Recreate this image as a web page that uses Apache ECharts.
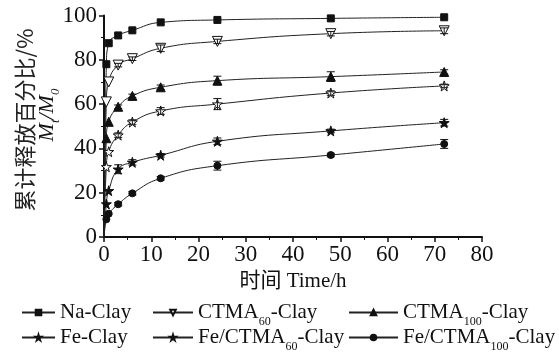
<!DOCTYPE html>
<html>
<head>
<meta charset="utf-8">
<script src="https://cdn.jsdelivr.net/npm/echarts@6/dist/echarts.min.js"></script>
<style>html,body{margin:0;padding:0;background:#fff;}#c{width:559px;height:354px;}</style>
</head>
<body>
<div id="c"></div>
<script>
// ---- data ----
var times = [0, 0.5, 1, 3, 6, 12, 24, 48, 72];
var seriesNames = ['Na-Clay', 'CTMA60-Clay', 'CTMA100-Clay', 'Fe-Clay', 'Fe/CTMA60-Clay', 'Fe/CTMA100-Clay'];
var naClay        = [0, 78.0, 87.5, 91.0, 93.3, 96.9, 98.0, 98.7, 99.2];
var ctma60Clay    = [0, 61.0, 70.0, 77.6, 80.5, 85.2, 88.3, 91.8, 93.1];
var ctma100Clay   = [0, 44.6, 52.0, 58.8, 63.7, 67.6, 70.6, 72.4, 74.5];
var feClay        = [0, 31.7, 38.5, 46.0, 51.9, 56.9, 60.0, 65.0, 68.2];
var feCtma60Clay  = [0, 14.9, 20.9, 30.6, 33.7, 36.9, 43.2, 47.9, 51.6];
var feCtma100Clay = [0, 8.0, 10.5, 14.8, 19.7, 26.5, 32.2, 37.0, 42.0];
var naErr        = [0, 0, 0, 0, 0, 0, 0, 0, 0];
var ctma60Err    = [0, 0, 0, 0.8, 0.8, 1.5, 1.0, 1.0, 1.3];
var ctma100Err   = [0, 0, 0, 0.8, 0.8, 1.0, 2.0, 2.2, 1.0];
var feErr        = [0, 0, 0, 1.0, 1.0, 1.5, 2.5, 1.0, 0.8];
var feCtma60Err  = [0, 0, 0, 2.0, 1.2, 0.8, 1.5, 0.8, 1.5];
var feCtma100Err = [0, 0, 0, 0.8, 0.8, 0.8, 2.0, 0.8, 2.0];
var xTicks = [0, 10, 20, 30, 40, 50, 60, 70, 80];
var yTicks = [0, 20, 40, 60, 80, 100];

// ---- build ----
var serif = 'Liberation Serif, Times New Roman, serif';
var values = [naClay, ctma60Clay, ctma100Clay, feClay, feCtma60Clay, feCtma100Clay];
var errs = [naErr, ctma60Err, ctma100Err, feErr, feCtma60Err, feCtma100Err];
var starPath = 'path://M50,0 L61,35 L98,35 L68,57 L79,91 L50,70 L21,91 L32,57 L2,35 L39,35 Z';
var symbols = ['rect', 'path://M0,0 L100,0 L50,86 Z', 'triangle', starPath, starPath, 'circle'];
var sizes = [7, 10, 9, 10, 10, 7];
var filled = [true, false, true, false, true, true];

function pts(arr) {
  return times.map(function (t, i) {
    var d = { value: [t, arr[i]] };
    if (t === 0) { d.symbol = 'none'; }
    return d;
  });
}

var series = [];
seriesNames.forEach(function (n, k) {
  series.push({
    name: n, type: 'line', data: pts(values[k]), smooth: 0.5,
    symbol: symbols[k], symbolSize: sizes[k],
    lineStyle: { color: '#222', width: 1 },
    itemStyle: { color: filled[k] ? '#111' : '#fff', borderColor: '#111', borderWidth: 1 },
    z: 3
  });
});
var errData = [];
errs.forEach(function (e, k) {
  e.forEach(function (v, i) { if (v > 0) errData.push([times[i], values[k][i] - v, values[k][i] + v]); });
});
series.push({
  type: 'custom', data: errData, z: 4, silent: true,
  renderItem: function (params, api) {
    var x = api.value(0);
    var lo = api.coord([x, api.value(1)]);
    var hi = api.coord([x, api.value(2)]);
    var w = 4;
    var st = { stroke: '#111', lineWidth: 1 };
    return { type: 'group', children: [
      { type: 'line', shape: { x1: lo[0], y1: lo[1], x2: hi[0], y2: hi[1] }, style: st },
      { type: 'line', shape: { x1: lo[0] - w, y1: lo[1], x2: lo[0] + w, y2: lo[1] }, style: st },
      { type: 'line', shape: { x1: hi[0] - w, y1: hi[1], x2: hi[0] + w, y2: hi[1] }, style: st }
    ]};
  }
});

function legendFmt(name) {
  var m = name.match(/^(.*CTMA)(\d+)(-Clay)$/);
  if (m) return '{a|' + m[1] + '}{s|' + m[2] + '}{a|' + m[3] + '}';
  return '{a|' + name + '}';
}
var legendText = {
  color: '#111', fontFamily: serif, fontSize: 21,
  rich: {
    a: { fontFamily: serif, fontSize: 21, lineHeight: 24, color: '#111' },
    s: { fontFamily: serif, fontSize: 12, lineHeight: 12, verticalAlign: 'bottom', padding: [0, 0, -3, 0], color: '#111' }
  }
};
function mkLegend(left, top, w, name) {
  return {
    left: left, top: top, itemWidth: w, itemHeight: 7, padding: 0,
    data: [name], formatter: legendFmt, textStyle: legendText, selectedMode: false
  };
}
var rowTop = [302, 327];
var colLeft = [21, 152, 348];
var colW = [33, 40, 49];
var legends = [];
seriesNames.forEach(function (n, k) {
  var col = k % 3, row = Math.floor(k / 3);
  legends.push(mkLegend(colLeft[col], rowTop[row], colW[col], n));
});

var chart = echarts.init(document.getElementById('c'), null, { renderer: 'canvas' });
chart.setOption({
  backgroundColor: '#fff',
  animation: false,
  grid: { left: 104, right: 77, top: 15.5, bottom: 117, containLabel: false },
  xAxis: {
    type: 'value', min: xTicks[0], max: xTicks[xTicks.length - 1], interval: xTicks[1] - xTicks[0],
    name: '时间 Time/h', nameLocation: 'middle', nameGap: 33,
    nameTextStyle: { fontFamily: 'Liberation Serif, Noto Sans CJK SC', fontSize: 21, color: '#111' },
    axisLine: { lineStyle: { color: '#111', width: 2 } },
    axisTick: { length: 5, lineStyle: { color: '#111', width: 1.5 } },
    minorTick: { show: true, splitNumber: 2, length: 3, lineStyle: { color: '#111', width: 1 } },
    axisLabel: { fontFamily: serif, fontSize: 23, color: '#111', margin: 6 },
    splitLine: { show: false }
  },
  yAxis: {
    type: 'value', min: yTicks[0], max: yTicks[yTicks.length - 1], interval: yTicks[1] - yTicks[0],
    axisLine: { show: true, lineStyle: { color: '#111', width: 2 } },
    axisTick: { show: true, length: 5, lineStyle: { color: '#111', width: 1.5 } },
    minorTick: { show: true, splitNumber: 2, length: 3, lineStyle: { color: '#111', width: 1 } },
    axisLabel: { fontFamily: serif, fontSize: 23, color: '#111', margin: 7 },
    splitLine: { show: false }
  },
  legend: legends,
  graphic: [
    { type: 'text', x: 25, y: 120, rotation: Math.PI / 2,
      style: { text: '累计释放百分比/%', font: '22px "Noto Sans CJK SC"', fill: '#222', align: 'center', verticalAlign: 'middle' } },
    { type: 'text', x: 47, y: 115, rotation: Math.PI / 2,
      style: { text: '{i|M}{s|t}{i|/M}{s|0}', align: 'center', verticalAlign: 'middle', fill: '#111',
        rich: {
          i: { fontFamily: serif, fontStyle: 'italic', fontSize: 22, lineHeight: 24, fill: '#111' },
          s: { fontFamily: serif, fontStyle: 'italic', fontSize: 13, lineHeight: 13, verticalAlign: 'bottom', padding: [0, 0, -3, 0], fill: '#111' }
        } } }
  ],
  series: series
});
</script>
</body>
</html>
